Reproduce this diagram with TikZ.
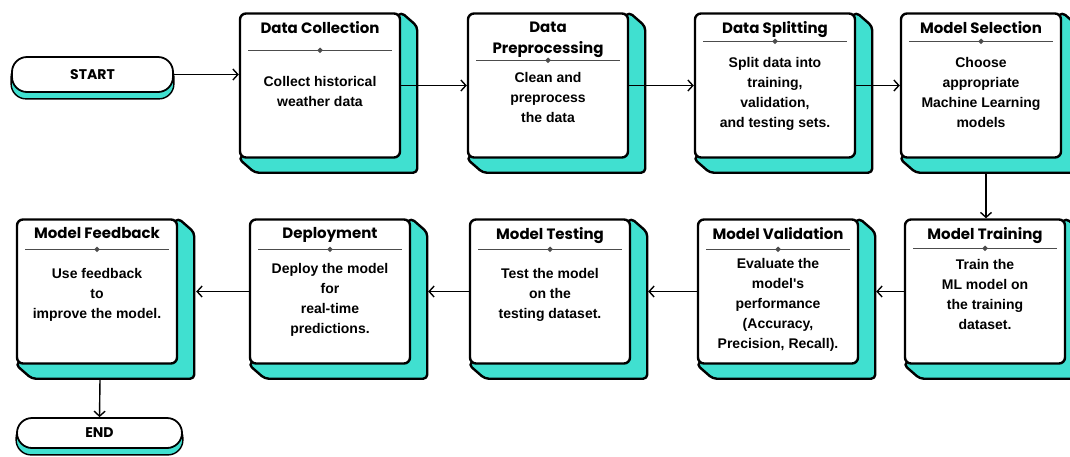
\documentclass[tikz,border=0pt]{standalone}
\usepackage{fontspec}
\newfontfamily\titlefont{Poppins}
\newfontfamily\bodyfont{Liberation Sans}
\usetikzlibrary{arrows.meta,backgrounds,calc}
\definecolor{tealshade}{RGB}{64,224,208}
\begin{document}
\begin{tikzpicture}[x=1pt, y=-1pt,
  stage/.style={rectangle, draw, line width=2.4pt, fill=white, rounded corners=6pt,
                minimum width=160pt, minimum height=144pt, inner sep=0pt},
  terminal/.style={rectangle, draw, line width=1.8pt, fill=white, rounded corners=15pt,
                   minimum width=162pt, minimum height=33pt, inner sep=0pt,
                   font=\titlefont\bfseries\fontsize{14}{16}\selectfont},
  extrude/.style={fill=tealshade, draw, line width=2.4pt, rounded corners=4pt, line join=round},
  title/.style={anchor=north, align=center, inner sep=0pt,
                font=\titlefont\bfseries\fontsize{15}{21}\selectfont},
  body/.style={anchor=north, align=center, inner sep=0pt,
               font=\bodyfont\bfseries\fontsize{14}{20}\selectfont},
  sepline/.style={draw=black!70, line width=0.8pt},
  arr/.style={-{Straight Barb[length=5pt,width=11pt]}, line width=1.4pt}
]
  \useasboundingbox (0,0) rectangle (1070,456);

  % Terminals
  \node[terminal, minimum width=161pt, minimum height=35pt] (start) at (92.5,74.5) {START};
  \node[terminal, minimum width=165pt, minimum height=30pt] (stop) at (99.5,433) {END};

  % Stage boxes
  \foreach \n/\x/\y in {collect/320/85.5, prep/548/85.5, split/775/85.5, select/981/85.5,
                        train/985/291.5, valid/778/291.5, test/550/291.5,
                        deploy/330/291.5, feedback/97/291.5}
    \node[stage] (\n) at (\x,\y) {};

  % Titles, separators and texts
  \foreach \n/\t/\s/\b/\txt in {
      collect/{Data Collection}/38/68/{Collect historical\\weather data},
      prep/{Data\\Preprocessing}/48/64/{Clean and\\preprocess\\the data},
      split/{Data Splitting}/29/49/{Split data into\\training,\\validation,\\and testing sets.},
      select/{Model Selection}/29/49/{Choose\\appropriate\\Machine Learning\\models},
      train/{Model Training}/30/45/{Train the\\ML model on\\the training\\dataset.},
      valid/{Model Validation}/31/44/{Evaluate the\\model's\\performance\\(Accuracy,\\Precision, Recall).},
      test/{Model Testing}/31/54/{Test the model\\on the\\testing dataset.},
      deploy/{Deployment}/31/49/{Deploy the model\\for\\real-time\\predictions.},
      feedback/{Model Feedback}/31/54/{Use feedback\\to\\improve the model.}} {
    \node[title] (\n-t) at ($(\n.north)+(0,9)$) {\t};
    \coordinate (\n-s) at ($(\n.north)+(0,\s)$);
    \draw[sepline] ($(\n-s)+(-72,0)$) -- ($(\n-s)+(72,0)$);
    \fill[black!70] ($(\n-s)+(-2.8,0)$) -- ($(\n-s)+(0,-2.8)$) -- ($(\n-s)+(2.8,0)$)
      -- ($(\n-s)+(0,2.8)$) -- cycle;
    \node[body] (\n-b) at ($(\n.north)+(0,\b-4)$) {\txt};
  }

  % Teal extrusions
  \begin{scope}[on background layer]
    \foreach \n in {collect,prep,split,select,train,valid,test,deploy,feedback}
      \filldraw[extrude] (\n.north east) -- ($(\n.north east)+(16,14)$)
        -- ($(\n.south east)+(16,14)$) -- ($(\n.south west)+(16,14)$) -- (\n.south west) -- cycle;
    \foreach \n in {start,stop}
      \filldraw[extrude, line width=1.4pt, rounded corners=15pt]
        ($(\n.north west)+(0,6)$) rectangle ($(\n.south east)+(0,6)$);
  \end{scope}

  % Arrows
  \draw[arr] (start.east) -- (start.east -| collect.west);
  \draw[arr] (collect.east) -- (prep.west);
  \draw[arr] (prep.east) -- (split.west);
  \draw[arr] (split.east) -- (select.west);
  \draw[arr] ($(select.south)+(5,14)$) -- ($(train.north)+(1,0)$);
  \draw[arr] (train.west) -- ($(valid.east)+(17,0)$);
  \draw[arr] (valid.west) -- ($(test.east)+(17,0)$);
  \draw[arr] (test.west) -- ($(deploy.east)+(17,0)$);
  \draw[arr] (deploy.west) -- ($(feedback.east)+(18,0)$);
  \draw[arr] ($(feedback.south)+(3,15)$) -- (stop.north);
\end{tikzpicture}
\end{document}
